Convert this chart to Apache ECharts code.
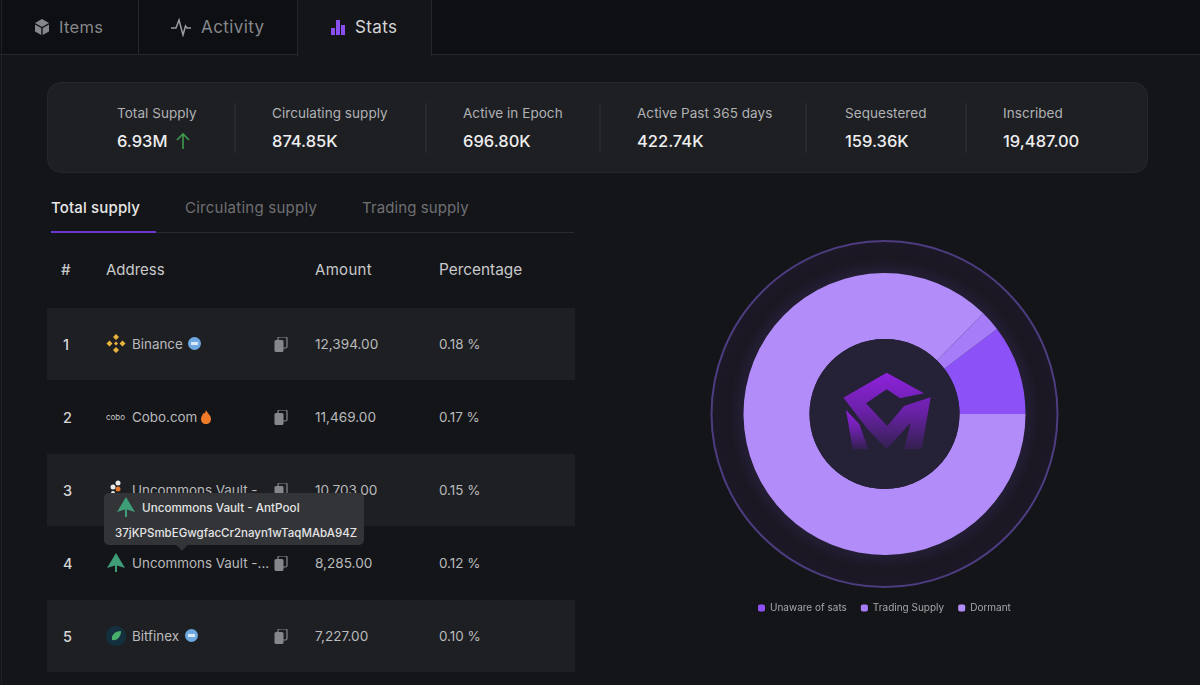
<!DOCTYPE html>
<html>
<head>
<meta charset="utf-8">
<title>Stats</title>
<script src="https://cdn.jsdelivr.net/npm/echarts@6/dist/echarts.min.js"></script>
<style>
  html, body { margin: 0; width: 1200px; height: 685px; overflow: hidden; background: #141518; font-family: Inter, "Noto Sans", sans-serif; }
  .t { position: absolute; white-space: nowrap; transform: translateY(-50%); }
  .box { position: absolute; }
  svg { position: absolute; }
  #chart { position: absolute; left: 600px; top: 230px; width: 600px; height: 400px; }
</style>
</head>
<body>
<div id="page"></div>
<div id="chart"></div>
<svg style="left:700px;top:230px;pointer-events:none" width="370" height="390" viewBox="0 0 1110 1170">
  <defs><linearGradient id="logo" x1="0" y1="0" x2="0" y2="1">
    <stop offset="0" stop-color="#8f22dc"/><stop offset="0.5" stop-color="#6a21a8"/><stop offset="1" stop-color="#33204f"/>
  </linearGradient></defs>
  <path fill="url(#logo)" d="M560 428L672 490L600 505L560 478L498 520L562 588L612 528L692 502L665 658L612 658L632 578L560 658L505 600L430 503Z"/>
  <path fill="url(#logo)" d="M438 540L478 582L505 658L458 658Z"/>
</svg>
<script>
// chart values
const sliceNames = ['Unaware of sats', 'Trading Supply', 'Dormant'];
const sliceValues = [713, 164, 6053];
const sliceColors = ['#8c52f8', '#a67cf8', '#b28df9'];

const statLabels = ['Total Supply', 'Circulating supply', 'Active in Epoch', 'Active Past 365 days', 'Sequestered', 'Inscribed'];
const statValues = ['6.93M', '874.85K', '696.80K', '422.74K', '159.36K', '19,487.00'];

const rowNames = ['Binance', 'Cobo.com', 'Uncommons Vault -', 'Uncommons Vault -...', 'Bitfinex'];
const rowAmounts = ['12,394.00', '11,469.00', '10,703.00', '8,285.00', '7,227.00'];
const rowPercents = ['0.18 %', '0.17 %', '0.15 %', '0.12 %', '0.10 %'];

const page = document.getElementById('page');

function box(x, y, w, h, style) {
    const d = document.createElement('div');
    d.className = 'box';
    d.style.cssText = `left:${x}px;top:${y}px;width:${w}px;height:${h}px;` + (style || '');
    page.appendChild(d);
    return d;
}

function text(str, x, y, size, color, weight, spacing) {
    const d = document.createElement('div');
    d.className = 't';
    d.textContent = str;
    d.style.cssText = `left:${x}px;top:${y}px;font-size:${size}px;color:${color};font-weight:${weight || 400};letter-spacing:${spacing || 0}px;`;
    page.appendChild(d);
    return d;
}

function icon(x, y, w, h, inner) {
    const d = document.createElement('div');
    d.innerHTML = `<svg style="left:${x}px;top:${y}px" width="${w}" height="${h}" viewBox="0 0 ${w} ${h}">${inner}</svg>`;
    page.appendChild(d);
}

// top tabs
box(0, 0, 1200, 55, 'background:#0e0f12;border-bottom:1px solid #26272b;box-sizing:border-box');
box(138, 0, 1, 55, 'background:#26272b');
box(297, 0, 135, 56, 'background:#141518;border-left:1px solid #26272b;border-right:1px solid #26272b;box-sizing:border-box');
box(1, 0, 1, 685, 'background:#202125');
text('Items', 59, 27, 16.500, '#85878b', 400, 0.3);
text('Activity', 201, 27, 17, '#85878b', 400, 0.4);
text('Stats', 355, 27, 17, '#d6d6d8', 400, 0.4);
icon(33, 18, 18, 18, '<path fill="#85878b" d="M9 1L16 5L9 9L2 5ZM2 6.500L8.300 10V17L2 13.400ZM16 6.500L9.700 10V17L16 13.400Z"/>');
icon(170, 17, 22, 20, '<path fill="none" stroke="#9a9c9f" stroke-width="1.500" d="M1 11H6L9 3L13 18L15.500 9L17 11H21"/>');
icon(330, 18, 16, 18, '<rect x="1" y="10" width="4" height="7" fill="#8a4ff0"/><rect x="6" y="2" width="4" height="15" fill="#8a4ff0"/><rect x="11" y="7" width="4" height="10" fill="#8a4ff0"/>');

// stats panel
box(47, 82, 1101, 91, 'background:#1e1f23;border:1px solid #26272b;border-radius:14px;box-sizing:border-box');
const statX = [117, 272, 463, 637, 845, 1003];
const dividerX = [234, 425, 599, 805, 965];
statLabels.forEach((l, i) => {
    text(l, statX[i], 113, 13.500, '#b0b1b4', 400, 0.05);
    text(statValues[i], statX[i], 141, 16.500, '#eeeeef', 500);
});
dividerX.forEach(x => box(x, 103, 2, 50, 'background:#28292d'));
icon(174, 132, 18, 18, '<path fill="none" stroke="#3f9a4e" stroke-width="1.600" d="M9 17V2M3 8L9 2L15 8"/>');

// sub tabs
text('Total supply', 51, 207, 15, '#e8e8e9', 500, 0.15);
text('Circulating supply', 185, 207, 15, '#6f7074', 400, 0.25);
text('Trading supply', 362, 207, 15, '#6f7074', 400, 0.1);
box(51, 232, 523, 1, 'background:#2a2b2f');
box(51, 231, 105, 2, 'background:#6f35d0');

// table
text('#', 61, 269, 15, '#c8c9cb', 500);
text('Address', 106, 269, 15, '#c8c9cb');
text('Amount', 315, 269, 15, '#c8c9cb', 400, 0.3);
text('Percentage', 439, 269, 15.400, '#c8c9cb');

const rowIcons = [
    '<path fill="#e8b33a" d="M10 0L13 3L10 6L7 3ZM3.500 6.500L6.500 9.500L3.500 12.500L0.500 9.500ZM16.500 6.500L19.500 9.500L16.500 12.500L13.500 9.500ZM10 7.500L12 9.500L10 11.500L8 9.500ZM10 13L13 16L10 19L7 16Z"/>',
    '<text x="0" y="13" font-size="8" fill="#c8c9cb" font-family="Inter">cobo</text>',
    '<circle cx="12" cy="3" r="2.500" fill="#e8e8e8"/><circle cx="7" cy="7" r="2.500" fill="#e8e8e8"/><circle cx="12" cy="9" r="2.500" fill="#e2762c"/><circle cx="7" cy="13" r="2" fill="#e8e8e8"/>',
    '<path fill="#3f9e78" d="M10 0L19 15L11 12.500V19H9V12.500L1 15Z"/>',
    '<circle cx="10" cy="10" r="10" fill="#14303f"/><path fill="#49b06c" d="M15 5C15 11 11 15 6 14C5 9 9 5 15 5Z"/>'
];
const badges = [
    [188, 'blue'], [200, 'fire'], null, null, [185, 'blue']
];

rowNames.forEach((name, i) => {
    const top = 308 + i * 73;
    const mid = 344 + i * 73;
    if (i % 2 === 0) box(47, top, 528, 72, 'background:#1e1f23');
    text(String(i + 1), 63, mid, 14.500, '#d6d6d8', 500);
    icon(106, mid - 10, 20, 20, rowIcons[i]);
    text(name, 132, mid, 13.400, '#b9babc');
    icon(274, mid - 7, 14, 15, '<rect x="4" y="0" width="9" height="11" rx="1.500" fill="none" stroke="#85878b" stroke-width="1.200"/><rect x="0.500" y="3" width="9" height="12" rx="1.500" fill="#85878b"/>');
    text(rowAmounts[i], 315, mid, 13.600, '#b9babc');
    text(rowPercents[i], 439, mid, 13.400, '#b9babc');
    const b = badges[i];
    if (b && b[1] === 'blue') icon(b[0], mid - 7, 13, 13, '<circle cx="6.500" cy="6.500" r="6.500" fill="#6fa8e0"/><rect x="3" y="5" width="7" height="3" fill="#d8e8f5"/>');
    if (b && b[1] === 'fire') icon(b[0], mid - 7, 12, 14, '<path fill="#ee7a2a" d="M6 0C7 3 11 5 11 9C11 12 9 14 6 14C3 14 1 12 1 9C1 6 3 5 3 3C4 4 5 4 6 0Z"/>');
});

// hover tooltip over rows 3 and 4
box(104, 493, 260, 52, 'background:#333437;border-radius:5px');
box(178, 541, 8, 8, 'background:#333437;transform:rotate(45deg)');
icon(116, 497, 20, 21, '<path fill="#3f9e78" d="M10 0L19 15L11 12.500V20H9V12.500L1 15Z"/>');
text('Uncommons Vault - AntPool', 142, 508, 11.700, '#e4e4e5', 500);
text('37jKPSmbEGwgfacCr2nayn1wTaqMAbA94Z', 115, 533, 11.500, '#e4e4e5', 500);

// donut, drawn around the same centre as the decorative rings
const chart = echarts.init(document.getElementById('chart'));
const center = [284.500, 184];
chart.setOption({
    animation: false,
    legend: {
        data: sliceNames,
        left: 153,
        top: 368,
        itemWidth: 7,
        itemHeight: 7,
        itemGap: 14,
        icon: 'roundRect',
        selectedMode: false,
        textStyle: { color: '#a5a6a9', fontSize: 10, fontFamily: 'Inter, sans-serif' }
    },
    series: [
        {
            type: 'pie',
            silent: true,
            center,
            radius: [0, 173],
            label: { show: false },
            labelLine: { show: false },
            itemStyle: {
                borderColor: '#4d3c80',
                borderWidth: 2,
                color: { type: 'radial', x: center[0], y: center[1], r: 173, global: true,
                    colorStops: [{ offset: 0.81, color: '#241e35' }, { offset: 0.9, color: '#1a1722' }, { offset: 1, color: '#1c1827' }] }
            },
            data: [{ value: 1, name: 'ring' }]
        },
        {
            type: 'pie',
            silent: true,
            center,
            radius: [75, 141],
            startAngle: 0,
            clockwise: false,
            label: { show: false },
            labelLine: { show: false },
            itemStyle: { borderWidth: 0 },
            data: sliceNames.map((name, i) => ({ name, value: sliceValues[i], itemStyle: { color: sliceColors[i] } }))
        },
        {
            type: 'pie',
            silent: true,
            center,
            radius: [0, 75],
            label: { show: false },
            labelLine: { show: false },
            itemStyle: { color: '#252136' },
            data: [{ value: 1, name: 'hub' }]
        }
    ]
});
</script>
</body>
</html>
